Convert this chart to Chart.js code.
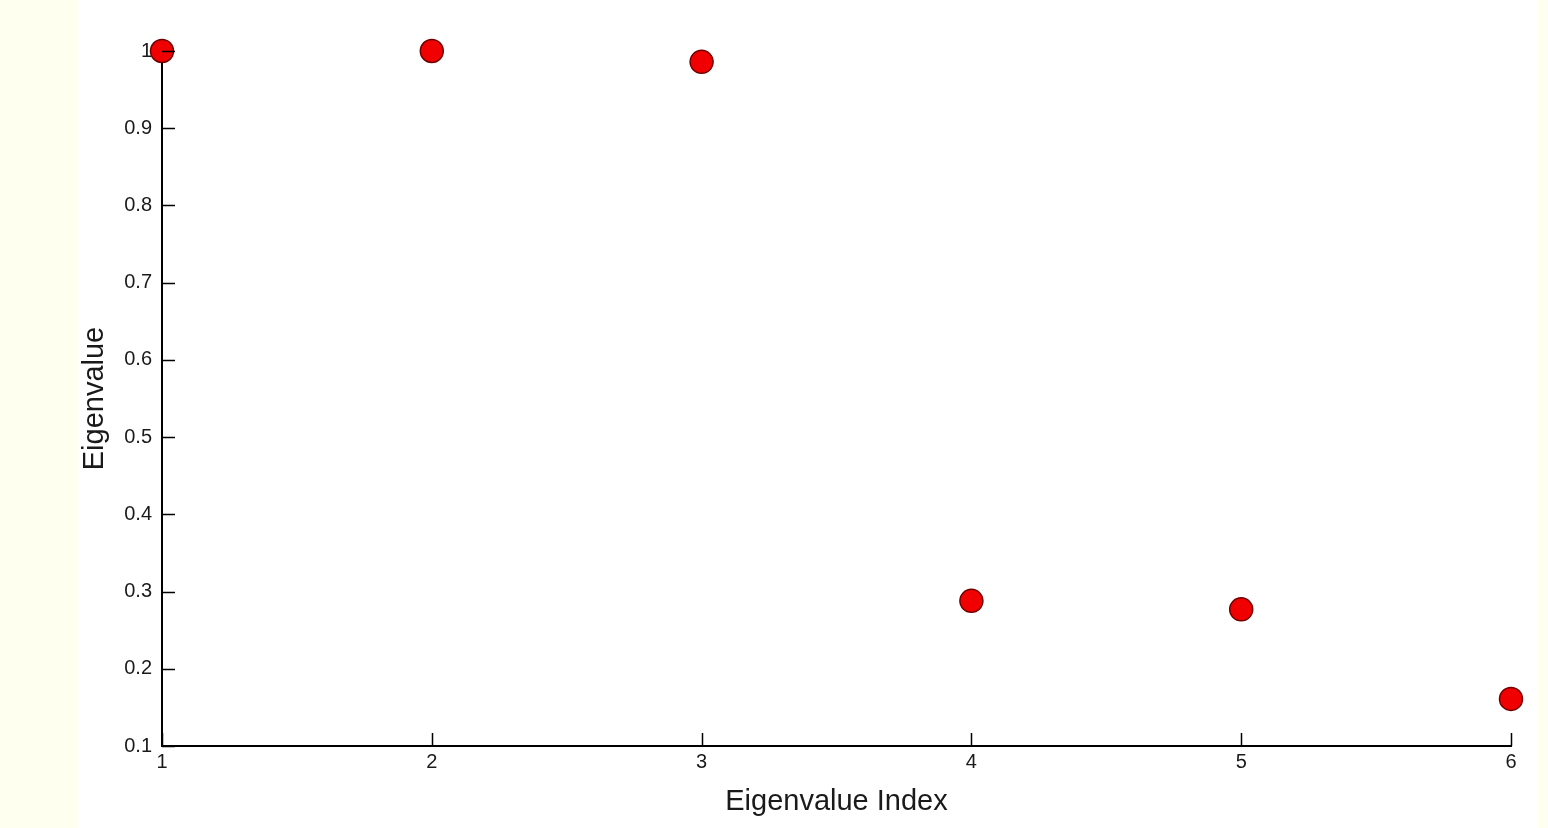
<!DOCTYPE html>
<html>
<head>
<meta charset="utf-8">
<script src="https://cdn.jsdelivr.net/npm/chart.js@4/dist/chart.umd.min.js"></script>
<style>
  html, body { margin: 0; padding: 0; background: #fffff0; }
  #paper { position: absolute; left: 78px; top: 0; width: 1460px; height: 828px; background: #ffffff; }
  #wrap { position: absolute; left: 0; top: 0; width: 1548px; height: 828px; }
</style>
</head>
<body>
<div id="paper"></div>
<div id="wrap"><canvas id="chart" width="1548" height="828"></canvas></div>
<script>
// Données
const indices = [1, 2, 3, 4, 5, 6];
const eigenvalues = [1.0, 1.0, 0.986, 0.288, 0.277, 0.161];
const yTicks = [0.1, 0.2, 0.3, 0.4, 0.5, 0.6, 0.7, 0.8, 0.9, 1];

const tickFont = { family: 'Liberation Sans, Arial, sans-serif', size: 20 };
const titleFont = { family: 'Liberation Sans, Arial, sans-serif', size: 29 };

// Petits traits de graduation vers l'intérieur, comme dans l'original
const inwardTicks = {
    id: 'inwardTicks',
    afterDraw(chart) {
        const ctx = chart.ctx;
        const x = chart.scales.x;
        const y = chart.scales.y;
        const len = 13;
        ctx.save();
        ctx.strokeStyle = '#000';
        ctx.lineWidth = 1.5;
        ctx.beginPath();
        yTicks.forEach(v => {
            const py = Math.round(y.getPixelForValue(v)) + 0.5;
            ctx.moveTo(x.left, py);
            ctx.lineTo(x.left + len, py);
        });
        indices.forEach(v => {
            const px = Math.round(x.getPixelForValue(v)) + 0.5;
            ctx.moveTo(px, y.bottom);
            ctx.lineTo(px, y.bottom - len);
        });
        ctx.stroke();
        ctx.restore();
    }
};

new Chart(document.getElementById('chart').getContext('2d'), {
    type: 'scatter',
    data: {
        datasets: [{
            label: 'Eigenvalue',
            data: indices.map((v, i) => ({ x: v, y: eigenvalues[i] })),
            backgroundColor: '#f00000',
            borderColor: '#700000',
            borderWidth: 1.5,
            pointRadius: 11.5,
            pointHoverRadius: 11.5,
            clip: false
        }]
    },
    options: {
        responsive: false,
        animation: false,
        layout: { padding: { left: 78, right: 37, top: 51, bottom: 0 } },
        plugins: {
            legend: { display: false },
            tooltip: { enabled: false }
        },
        scales: {
            x: {
                type: 'linear',
                min: 1,
                max: 6,
                afterFit: s => { s.height = 82; },
                afterBuildTicks: s => { s.ticks = indices.map(v => ({ value: v })); },
                ticks: { font: tickFont, color: '#1a1a1a', padding: 4, maxRotation: 0,
                         callback: v => String(v) },
                grid: { drawOnChartArea: false, drawTicks: false },
                border: { color: '#000', width: 2 },
                title: { display: true, text: 'Eigenvalue Index', font: titleFont, color: '#1a1a1a',
                         padding: { top: 0, bottom: 9 } }
            },
            y: {
                min: 0.1,
                max: 1,
                afterFit: s => { s.width = 84; },
                afterBuildTicks: s => { s.ticks = yTicks.map(v => ({ value: v })); },
                ticks: { font: tickFont, color: '#1a1a1a', padding: 10,
                         callback: v => String(+v.toFixed(1)) },
                grid: { drawOnChartArea: false, drawTicks: false },
                border: { color: '#000', width: 2 },
                title: { display: true, text: 'Eigenvalue', font: titleFont, color: '#1a1a1a',
                         padding: { top: 0, bottom: 0 } }
            }
        }
    },
    plugins: [inwardTicks]
});
</script>
</body>
</html>
